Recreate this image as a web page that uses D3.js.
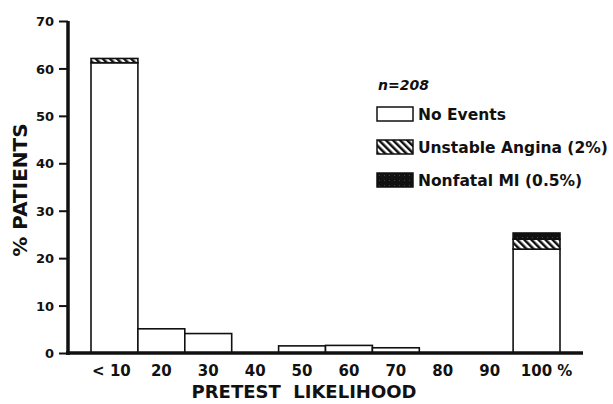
<!DOCTYPE html>
<html>
<head>
<meta charset="utf-8">
<script src="https://cdn.jsdelivr.net/npm/d3@7"></script>
<style>
  body { margin: 0; background: #fff; }
  svg text { font-family: 'DejaVu Sans', 'Liberation Sans', Arial, sans-serif; font-weight: bold; fill: #111; }
</style>
</head>
<body>
<svg id="chart" width="613" height="404"></svg>
<script>
// pretest likelihood bins and % of patients per outcome
var categories = ['< 10', '20', '30', '40', '50', '60', '70', '80', '90', '100 %'];
var noEvents = [61.2, 5.1, 4.1, 0, 1.5, 1.6, 1.1, 0, 0, 21.9];
var unstableAngina = [0.9, 0, 0, 0, 0, 0, 0, 0, 0, 2.1];
var nonfatalMI = [0, 0, 0, 0, 0, 0, 0, 0, 0, 1.3];
var yTicks = [0, 10, 20, 30, 40, 50, 60, 70];
var seriesNames = ['No Events', 'Unstable Angina (2%)', 'Nonfatal MI (0.5%)'];

var svg = d3.select('#chart');

// hatch patterns
var defs = svg.append('defs');
var hatch = defs.append('pattern')
	.attr('id', 'hatch')
	.attr('patternUnits', 'userSpaceOnUse')
	.attr('width', 5)
	.attr('height', 5)
	.attr('patternTransform', 'rotate(-45)');
hatch.append('rect').attr('width', 5).attr('height', 5).attr('fill', '#fff');
hatch.append('rect').attr('width', 2.5).attr('height', 5).attr('fill', '#111');

var dark = defs.append('pattern')
	.attr('id', 'dark')
	.attr('patternUnits', 'userSpaceOnUse')
	.attr('width', 5)
	.attr('height', 5);
dark.append('rect').attr('width', 5).attr('height', 5).attr('fill', '#111');
dark.append('rect').attr('x', 2).attr('y', 2).attr('width', 1).attr('height', 1).attr('fill', '#444');

var fills = ['#fff', 'url(#hatch)', 'url(#dark)'];

var x = d3.scaleBand().domain(categories).range([91, 560]).padding(0);
var y = d3.scaleLinear().domain([0, 70]).range([353, 21]);

var rows = categories.map(function (c, i) {
	return { cat: c, a: noEvents[i], b: unstableAngina[i], c: nonfatalMI[i] };
});
var stack = d3.stack().keys(['a', 'b', 'c'])(rows);

stack.forEach(function (layer, k) {
	svg.append('g').selectAll('rect')
		.data(layer.filter(function (d) { return d[1] - d[0] > 0; }))
		.enter()
		.append('rect')
		.attr('x', function (d) { return x(d.data.cat); })
		.attr('width', x.bandwidth())
		.attr('y', function (d) { return y(d[1]); })
		.attr('height', function (d) { return y(d[0]) - y(d[1]); })
		.style('fill', fills[k])
		.style('stroke', '#111')
		.style('stroke-width', 1.6);
});

// y axis
var yAxis = svg.append('g')
	.attr('transform', 'translate(68,0)')
	.call(d3.axisLeft(y).tickValues(yTicks).tickSize(9).tickSizeOuter(0).tickPadding(5));
yAxis.select('.domain').attr('stroke', '#111').attr('stroke-width', 3.5)
	.attr('d', 'M0,' + y(70) + 'V' + (y(0) + 2));
yAxis.selectAll('.tick line').attr('stroke', '#111').attr('stroke-width', 2);
yAxis.selectAll('.tick text').style('font-size', '13px').attr('dy', '0.36em');

// x axis
svg.append('line')
	.attr('x1', 66).attr('x2', 583)
	.attr('y1', y(0)).attr('y2', y(0))
	.style('stroke', '#111').style('stroke-width', 3.5);

var xAxis = svg.append('g')
	.attr('transform', 'translate(0,' + y(0) + ')')
	.call(d3.axisBottom(x).tickSize(0).tickPadding(12));
xAxis.select('.domain').remove();
xAxis.selectAll('.tick text').style('font-size', '15px')
	.style('white-space', 'pre')
	.attr('dx', function (d) { return d === '100 %' ? 10 : (d === '< 10' ? -3 : 0); });

// axis titles
svg.append('text')
	.attr('x', 304)
	.attr('y', 398)
	.attr('text-anchor', 'middle')
	.style('font-size', '18px')
	.style('white-space', 'pre')
	.text('PRETEST  LIKELIHOOD');

svg.append('text')
	.attr('transform', 'translate(27,190) rotate(-90)')
	.attr('text-anchor', 'middle')
	.style('font-size', '20px')
	.text('% PATIENTS');

// legend
svg.append('text')
	.attr('x', 378).attr('y', 90)
	.style('font-size', '14px')
	.style('font-style', 'italic')
	.text('n=208');

var legend = svg.append('g').selectAll('g')
	.data(seriesNames)
	.enter()
	.append('g')
	.attr('transform', function (d, i) { return 'translate(377,' + (107 + i * 33) + ')'; });

legend.append('rect')
	.attr('width', 36)
	.attr('height', 14)
	.style('fill', function (d, i) { return fills[i]; })
	.style('stroke', '#111')
	.style('stroke-width', 1.5);

legend.append('text')
	.attr('x', 41)
	.attr('y', 13)
	.style('font-size', '15.5px')
	.text(function (d) { return d; });
</script>
</body>
</html>
